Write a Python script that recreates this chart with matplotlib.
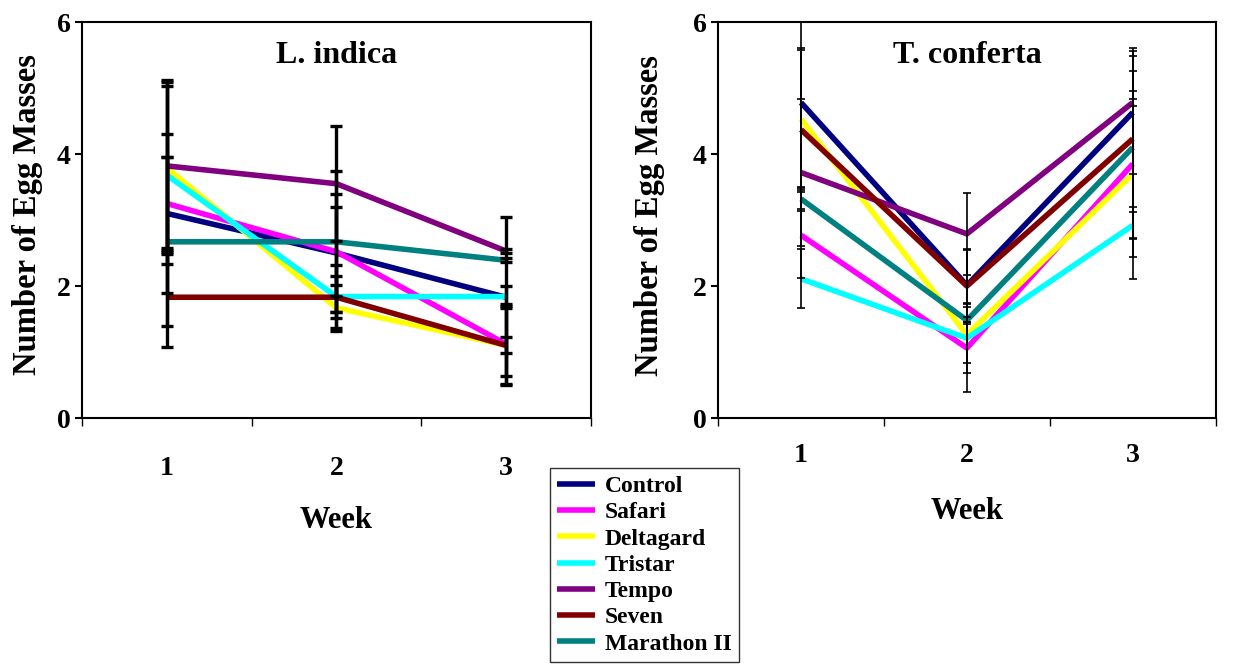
import matplotlib
matplotlib.use("Agg")
from matplotlib import pyplot as plt

plt.rcParams['font.family'] = ['Liberation Serif', 'DejaVu Serif']
plt.rcParams['font.weight'] = 'bold'

weeks = [1, 2, 3]
treatments = ['Control', 'Safari', 'Deltagard', 'Tristar', 'Tempo', 'Seven', 'Marathon II']
colors = ['#000080', '#FF00FF', '#FFFF00', '#00FFFF', '#800080', '#800000', '#008080']

# L. indica: mean egg masses per week, and error
indica_mean = {
    'Control':     [3.10, 2.50, 1.83],
    'Safari':      [3.25, 2.52, 1.12],
    'Deltagard':   [3.79, 1.67, 1.10],
    'Tristar':     [3.68, 1.84, 1.84],
    'Tempo':       [3.82, 3.55, 2.53],
    'Seven':       [1.83, 1.83, 1.10],
    'Marathon II': [2.67, 2.67, 2.39],
}
indica_err = {
    'Control':     [1.20, 0.90, 0.17],
    'Safari':      [0.70, 0.67, 0.60],
    'Deltagard':   [1.30, 0.35, 0.60],
    'Tristar':     [1.35, 0.48, 1.20],
    'Tempo':       [1.30, 0.87, 0.03],
    'Seven':       [0.75, 0.32, 0.12],
    'Marathon II': [1.28, 1.07, 0.03],
}

# T. conferta
conferta_mean = {
    'Control':     [4.78, 2.01, 4.63],
    'Safari':      [2.77, 1.06, 3.85],
    'Deltagard':   [4.53, 1.26, 3.70],
    'Tristar':     [2.11, 1.21, 2.92],
    'Tempo':       [3.72, 2.79, 4.78],
    'Seven':       [4.37, 2.00, 4.23],
    'Marathon II': [3.32, 1.48, 4.10],
}
conferta_err = {
    'Control':     [1.30, 0.55, 0.93],
    'Safari':      [0.65, 0.66, 1.75],
    'Deltagard':   [1.07, 0.42, 1.26],
    'Tristar':     [0.45, 0.53, 0.20],
    'Tempo':       [1.11, 0.62, 0.06],
    'Seven':       [1.21, 0.55, 1.03],
    'Marathon II': [0.18, 0.05, 1.39],
}


def draw_panel(ax, means, errs, title, bar_lw, cap, label_pad):
    for name, c in zip(treatments, colors):
        ax.plot(weeks, means[name], color=c, lw=4, label=name, zorder=2,
                solid_capstyle='butt')
    for name in treatments:
        ax.errorbar(weeks, means[name], yerr=errs[name], fmt='none',
                    ecolor='black', elinewidth=bar_lw, capsize=cap,
                    capthick=bar_lw, zorder=3)
    ax.set_xlim(0.5, 3.5)
    ax.set_ylim(0, 6)
    ax.set_yticks([0, 2, 4, 6])
    ax.set_xticks(weeks)
    ax.set_xticklabels(['1', '2', '3'])
    ax.set_xticks([0.5, 1.5, 2.5, 3.5], minor=True)
    ax.tick_params(axis='x', which='major', length=0, pad=label_pad,
                   labelsize=20)
    ax.tick_params(axis='x', which='minor', length=6, width=1,
                   direction='out')
    ax.tick_params(axis='y', length=5, width=1.5, direction='out',
                   labelsize=20, pad=3)
    for s in ax.spines.values():
        s.set_linewidth(1.5)
    ax.text(0.5, 0.915, title, transform=ax.transAxes, ha='center',
            va='center', fontsize=23, fontweight='bold')
    ax.set_ylabel('Number of Egg Masses', fontsize=23.5, fontweight='bold')


fig = plt.figure(figsize=(12.35, 6.65), dpi=100)
ax1 = fig.add_axes([0.0664, 0.3714, 0.412, 0.5955])
ax2 = fig.add_axes([0.5814, 0.3714, 0.403, 0.5955])

draw_panel(ax1, indica_mean, indica_err, 'L. indica', 2.4, 4, 27)
draw_panel(ax2, conferta_mean, conferta_err, 'T. conferta', 1.2, 3, 18)

ax1.set_xlabel('Week', fontsize=22, fontweight='bold', labelpad=18)
ax2.set_xlabel('Week', fontsize=22, fontweight='bold', labelpad=21)
ax1.yaxis.set_label_coords(-0.077, 0.513)
ax2.yaxis.set_label_coords(-0.106, 0.51)

handles, labels = ax1.get_legend_handles_labels()
leg = fig.legend(handles, labels, loc='center',
                 bbox_to_anchor=(0.4437, 0.003, 0.1563, 0.2947),
                 frameon=True, fancybox=False, fontsize=17,
                 handlelength=1.6, handletextpad=0.4, labelspacing=0.2,
                 borderpad=0.3, borderaxespad=0)
leg.get_frame().set_edgecolor('black')
leg.get_frame().set_linewidth(1)
for t in leg.get_texts():
    t.set_fontweight('bold')

plt.savefig('out.png', dpi=100)
